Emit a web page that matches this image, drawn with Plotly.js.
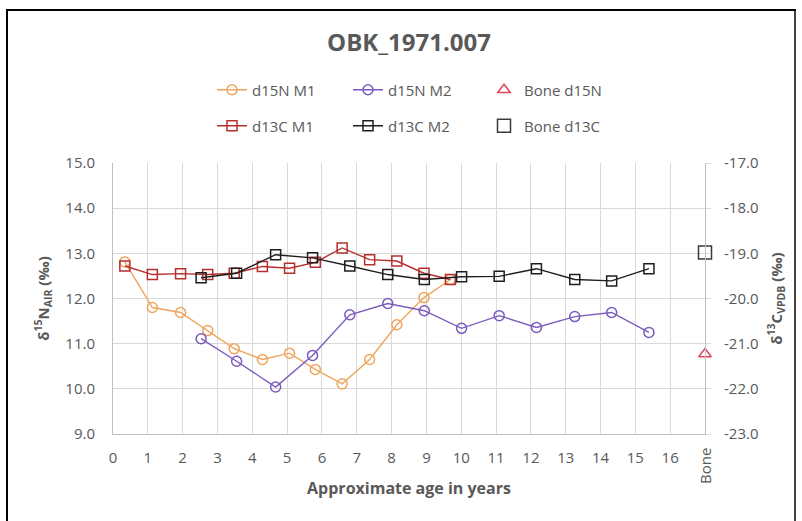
<!DOCTYPE html>
<html><head><meta charset="utf-8">
<script src="https://cdn.plot.ly/plotly-3.0.1.min.js"></script>
<style>html,body{margin:0;padding:0;background:#fff}#chart{width:802px;height:521px}</style>
</head><body><div id="chart"></div>
<script>
// ---- data ----
var ageM1 = [0.34, 1.13, 1.94, 2.72, 3.48, 4.29, 5.07, 5.81, 6.58, 7.37, 8.15, 8.93, 9.69];
var d15N_M1 = [12.81, 11.80, 11.69, 11.29, 10.89, 10.65, 10.79, 10.43, 10.11, 10.65, 11.42, 12.02, 12.42];
var d13C_M1 = [-19.28, -19.47, -19.45, -19.47, -19.44, -19.29, -19.33, -19.20, -18.88, -19.14, -19.17, -19.44, -19.58];

var ageM2 = [2.53, 3.55, 4.67, 5.73, 6.80, 7.89, 8.94, 10.01, 11.09, 12.16, 13.26, 14.32, 15.39];
var d15N_M2 = [11.11, 10.61, 10.04, 10.74, 11.64, 11.89, 11.73, 11.34, 11.62, 11.36, 11.60, 11.69, 11.25];
var d13C_M2 = [-19.54, -19.44, -19.03, -19.10, -19.28, -19.47, -19.58, -19.52, -19.51, -19.34, -19.58, -19.61, -19.34];

var boneX = [17];
var boneD15N = [10.77];
var boneD13C = [-18.98];

var xTickVals = [0,1,2,3,4,5,6,7,8,9,10,11,12,13,14,15,16,17];
var xTickText = ['0','1','2','3','4','5','6','7','8','9','10','11','12','13','14','15','16',''];
var y2TickVals = [-23,-22,-21,-20,-19,-18,-17];
var y2TickText = ['-23.0','-22.0','-21.0','-20.0','-19.0','-18.0','-17.0'];

// ---- styling ----
var gray = '#595959';
var FONT = 'Open Sans, Liberation Sans, sans-serif';
var cOrange = '#EFA55E', cPurple = '#7B5BBE', cRed = '#B3302F', cBlack = '#1E1E1E', cTri = '#D9485E', cBoneSq = '#3A3A3A';

function lineTrace(x, y, name, color, symbol, yaxis, legend) {
  return {
    x: x, y: y, name: name, type: 'scatter', mode: 'lines+markers',
    yaxis: yaxis, legend: legend, cliponaxis: false,
    line: {color: color, width: 1.4},
    marker: {symbol: symbol, size: 10, color: color, line: {color: color, width: 1.5}}
  };
}

var traces = [
  lineTrace(ageM1, d15N_M1, 'd15N M1', cOrange, 'circle-open', 'y', 'legend'),
  lineTrace(ageM2, d15N_M2, 'd15N M2', cPurple, 'circle-open', 'y', 'legend'),
  {x: boneX, y: boneD15N, name: 'Bone d15N', type: 'scatter', mode: 'markers', yaxis: 'y', legend: 'legend', cliponaxis: false,
   marker: {symbol: 'triangle-up-open', size: 11, color: cTri, line: {color: cTri, width: 1.5}}},
  lineTrace(ageM1, d13C_M1, 'd13C M1', cRed, 'square-open', 'y2', 'legend2'),
  lineTrace(ageM2, d13C_M2, 'd13C M2', cBlack, 'square-open', 'y2', 'legend2'),
  {x: boneX, y: boneD13C, name: 'Bone d13C', type: 'scatter', mode: 'markers', yaxis: 'y2', legend: 'legend2', cliponaxis: false,
   marker: {symbol: 'square-open', size: 13, color: cBoneSq, line: {color: cBoneSq, width: 1.5}}}
];

var W = 802, H = 521, L = 113, R = 97, T = 163, B = 87;
var pw = W - L - R, ph = H - T - B;
function px2paperX(px){ return (px - L) / pw; }
function px2paperY(py){ return (H - B - py) / ph; }

var legendCommon = {
  orientation: 'h', xref: 'container', yref: 'container', xanchor: 'left', yanchor: 'middle',
  font: {family: FONT, size: 15, color: gray}, bgcolor: 'rgba(0,0,0,0)',
  entrywidth: 91, entrywidthmode: 'pixels', traceorder: 'normal', itemclick: false
};

var layout = {
  width: W, height: H,
  margin: {l: L, r: R, t: T, b: B, autoexpand: false},
  paper_bgcolor: '#fff', plot_bgcolor: '#fff',
  font: {family: FONT, color: gray},
  showlegend: true,
  title: {text: 'OBK_1971.007', font: {family: FONT, size: 24, color: gray, weight: 'bold'},
          x: 0.5, xref: 'paper', xanchor: 'center', y: 1 - 43 / H, yref: 'container', yanchor: 'middle'},
  legend: Object.assign({}, legendCommon, {x: 212 / W, y: 1 - 90 / H}),
  legend2: Object.assign({}, legendCommon, {x: 212 / W, y: 1 - 126 / H}),
  xaxis: {
    range: [0, 17], tickmode: 'array', tickvals: xTickVals, ticktext: xTickText,
    showgrid: true, gridcolor: '#d9d9d9', gridwidth: 1, zeroline: false,
    showline: true, linecolor: '#bfbfbf', linewidth: 1, ticks: '',
    tickfont: {family: FONT, size: 15, color: gray}, ticklabelstandoff: 10,
    title: {text: 'Approximate age in years', font: {family: FONT, size: 16, color: gray, weight: 'bold'}, standoff: 16},
    automargin: false, fixedrange: true
  },
  yaxis: {
    range: [9, 15], dtick: 1, tick0: 9, tickformat: '.1f',
    showgrid: true, gridcolor: '#d9d9d9', gridwidth: 1, zeroline: false,
    showline: true, linecolor: '#bfbfbf', linewidth: 1, ticks: '',
    tickfont: {family: FONT, size: 15, color: gray}, ticklabelstandoff: 14,
    title: {text: '\u03b4<sup>15</sup>N<sub>AIR</sub> (\u2030)', font: {family: FONT, size: 15, color: gray, weight: 'bold'}, standoff: 12},
    automargin: false, fixedrange: true
  },
  yaxis2: {
    overlaying: 'y', side: 'right', range: [-23, -17],
    tickmode: 'array', tickvals: y2TickVals, ticktext: y2TickText,
    showgrid: false, zeroline: false,
    showline: true, linecolor: '#bfbfbf', linewidth: 1,
    ticks: 'outside', ticklen: 5, tickcolor: '#d9d9d9',
    tickfont: {family: FONT, size: 15, color: gray}, ticklabelstandoff: 10,
    title: {text: '\u03b4<sup>13</sup>C<sub>VPDB</sub> (\u2030)', font: {family: FONT, size: 15, color: gray, weight: 'bold'}, standoff: 13},
    automargin: false, fixedrange: true
  },
  annotations: [
    {text: 'Bone', x: 17, xref: 'x', y: px2paperY(466), yref: 'paper', textangle: -90,
     showarrow: false, font: {family: FONT, size: 15, color: gray}, xanchor: 'center', yanchor: 'middle'}
  ],
  shapes: [
    {type: 'line', xref: 'paper', yref: 'paper', x0: px2paperX(7), x1: px2paperX(7), y0: px2paperY(10), y1: px2paperY(525), line: {color: '#000', width: 2}},
    {type: 'line', xref: 'paper', yref: 'paper', x0: px2paperX(6), x1: px2paperX(796), y0: px2paperY(10), y1: px2paperY(10), line: {color: '#000', width: 2}},
    {type: 'line', xref: 'paper', yref: 'paper', x0: px2paperX(795), x1: px2paperX(795), y0: px2paperY(10), y1: px2paperY(525), line: {color: '#000', width: 1.5}}
  ]
};

Plotly.newPlot('chart', traces, layout, {displayModeBar: false, staticPlot: true});
</script>
</body></html>
